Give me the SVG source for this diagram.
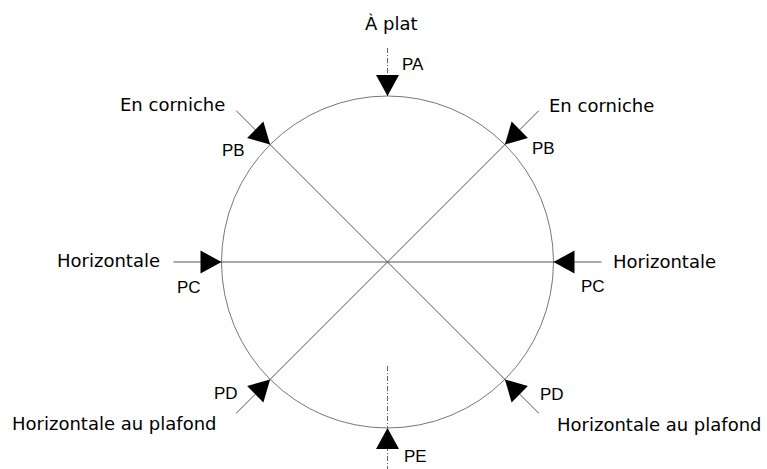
<svg xmlns="http://www.w3.org/2000/svg" width="767" height="469" viewBox="0 0 767 469">
  <style>
    .lbl { font-family: "DejaVu Sans", "Liberation Sans", sans-serif; font-size: 18px; fill: #000; }
    .code { font-family: "Liberation Sans", Arial, sans-serif; font-size: 17px; fill: #000; }
    .ln { stroke: #555; stroke-width: 1; fill: none; }
    .dash { stroke: #666; stroke-width: 1; fill: none; stroke-dasharray: 5 2 1 2; }
    .circ { stroke: #777; stroke-width: 1; fill: none; }
    .head { fill: #000; }
  </style>
  <defs>
    <polygon id="arrow" class="head" points="0,0 -21,-11.5 -21,11.5"/>
  </defs>
  <rect width="767" height="469" fill="#fff"/>

  <g id="circle">
    <circle class="circ" cx="387.5" cy="262" r="166"/>
  </g>

  <g id="connectors">
    <line class="ln" x1="236.2" y1="110.7" x2="538.8" y2="413.3"/>
    <line class="ln" x1="538.8" y1="110.7" x2="236.2" y2="413.3"/>
    <line class="ln" x1="173.5" y1="262" x2="601.5" y2="262" stroke="#222"/>
    <line class="dash" x1="387.5" y1="48" x2="387.5" y2="96"/>
    <line class="dash" x1="387.5" y1="366" x2="387.5" y2="428"/>
    <line class="dash" x1="387.5" y1="446" x2="387.5" y2="469"/>
  </g>

  <g id="pa">
    <use href="#arrow" transform="translate(387.5,96) rotate(90)"/>
    <text class="lbl" x="365" y="30">À plat</text>
    <text class="code" x="402" y="70">PA</text>
  </g>

  <g id="pb-left">
    <use href="#arrow" transform="translate(270.1,144.6) rotate(45)"/>
    <text class="lbl" x="120" y="111">En corniche</text>
    <text class="code" x="222" y="156">PB</text>
  </g>

  <g id="pb-right">
    <use href="#arrow" transform="translate(504.9,144.6) rotate(135)"/>
    <text class="lbl" x="549" y="112">En corniche</text>
    <text class="code" x="532" y="154">PB</text>
  </g>

  <g id="pc-left">
    <use href="#arrow" transform="translate(221.5,262) rotate(0)"/>
    <text class="lbl" x="57" y="267">Horizontale</text>
    <text class="code" x="177" y="293">PC</text>
  </g>

  <g id="pc-right">
    <use href="#arrow" transform="translate(553.5,262) rotate(180)"/>
    <text class="lbl" x="613" y="268">Horizontale</text>
    <text class="code" x="581" y="292">PC</text>
  </g>

  <g id="pd-left">
    <use href="#arrow" transform="translate(270.1,379.4) rotate(-45)"/>
    <text class="lbl" x="12" y="430">Horizontale au plafond</text>
    <text class="code" x="214" y="399">PD</text>
  </g>

  <g id="pd-right">
    <use href="#arrow" transform="translate(504.9,379.4) rotate(-135)"/>
    <text class="lbl" x="557" y="431">Horizontale au plafond</text>
    <text class="code" x="540" y="400">PD</text>
  </g>

  <g id="pe">
    <use href="#arrow" transform="translate(387.5,428) rotate(-90)"/>
    <text class="code" x="404" y="462">PE</text>
  </g>
</svg>
